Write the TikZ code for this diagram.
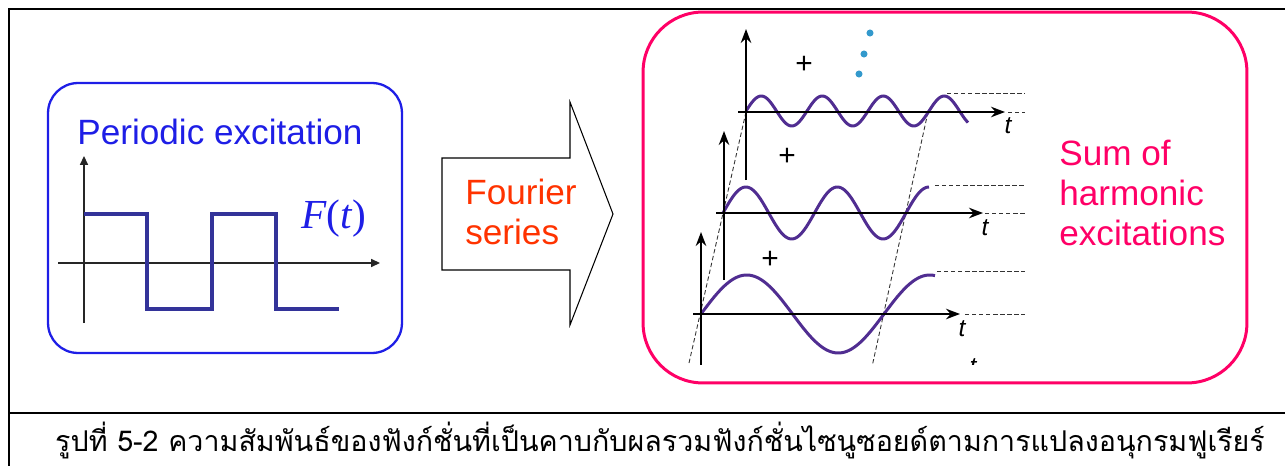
\documentclass[tikz,border=0pt]{standalone}
\usepackage{fontspec}
\setmainfont{Liberation Sans}
\newfontfamily\thaifont[Script=Thai]{Loma}
\newfontfamily\timesfont{Liberation Serif}
\usetikzlibrary{arrows.meta,positioning}

\definecolor{excblue}{RGB}{30,30,230}
\definecolor{squarewave}{RGB}{51,51,153}
\definecolor{fourierred}{RGB}{255,51,0}
\definecolor{sumpink}{RGB}{255,0,102}
\definecolor{harmonicpurple}{RGB}{80,45,145}
\definecolor{dotblue}{RGB}{51,153,204}

\begin{document}
\begin{tikzpicture}[
  x=0.02cm, y=-0.02cm,
  >=Stealth,
  frame/.style={line width=1.7pt, black},
  bigtext/.style={font=\fontsize{20}{22.7}\selectfont, align=left, inner sep=0pt},
  periodicbox/.style={draw=excblue, line width=1.3pt, rounded corners=0.6cm,
    minimum width=7.08cm, minimum height=5.4cm},
  sumbox/.style={draw=sumpink, line width=1.7pt, rounded corners=1.2cm,
    minimum width=12.08cm, minimum height=7.42cm},
  sqaxis/.style={-{Triangle[length=5pt,width=4.5pt]}, line width=0.8pt, black!85},
  sqwave/.style={line width=2pt, squarewave},
  fourierarrow/.style={draw=black, line width=0.6pt},
  axis/.style={->, line width=1.1pt, black},
  harmonic/.style={line width=1.7pt, harmonicpurple, smooth},
  guide/.style={dashed, dash pattern=on 2.5pt off 1.5pt, line width=0.5pt, black!80},
  tlabel/.style={font=\fontsize{14}{14}\selectfont\itshape, inner sep=0pt},
  plus/.style={font=\fontsize{17}{17}\selectfont, inner sep=0pt},
  dot/.style={circle, fill=dotblue, inner sep=0pt, minimum size=4pt},
  caption/.style={font=\thaifont\fontsize{16.3}{20}\selectfont, inner sep=0pt}
]
\useasboundingbox (0,0) rectangle (1285,466);

% Outer table frame.
\draw[frame] (1285,9) -- (9,9) -- (9,466);
\draw[frame] (9,413) -- (1285,413);

% Periodic excitation box with square wave.
\node[periodicbox] (periodic) at (225,218) {};
\node[bigtext, excblue] (periodiclabel) at (220,132) {Periodic excitation};
\draw[sqaxis] (84,323) -- (84,156);
\draw[sqaxis] (58,263) -- (380,263);
\draw[sqwave] (84,214) -| (147,309) -| (212,214) -| (276,309) -- (339,309);
\node[font=\fontsize{23.5}{23.5}\selectfont, excblue, inner sep=0pt] (ftlabel) at (334,219)
  {\timesfont\itshape F\/\upshape(\itshape t\/\upshape)};

% Fourier series block arrow.
\draw[fourierarrow] (442,158) -- (570,158) -- (570,102) -- (613,214)
  -- (570,325) -- (570,270) -- (442,270) -- cycle;
\node[bigtext, fourierred, anchor=west] (fourierlabel) at (465,212) {Fourier\\series};

% Sum of harmonics box.
\node[sumbox] (sum) at (945,197.5) {};
\node[bigtext, sumpink, anchor=west] (sumlabel) at (1059,193)
  {Sum of\\harmonic\\excitations};

\begin{scope}
\clip (660,18) rectangle (1040,364);
% Slanted guides through the origins.
\draw[guide] (746,112) -- (684,385);
\draw[guide] (928,112) -- (868,385);
\draw[guide] (947,93) -- (1025,93);
\draw[guide] (1008,112) -- (1025,112);
\draw[guide] (935,185) -- (1025,185);
\draw[guide] (985,213) -- (1025,213);
\draw[guide] (937,271) -- (1025,271);
\draw[guide] (965,314) -- (1025,314);

% Harmonics 3, 2, 1.
\draw[harmonic, domain=0:222, samples=150] plot ({746+\x}, {111-15*sin(\x/61*360)});
\draw[harmonic, domain=0:206, samples=120] plot ({723+\x}, {213-26*sin(\x/91.5*360)});
\draw[harmonic, domain=0:234, samples=120] plot ({701+\x}, {314-39*sin(\x/183*360)});

\draw[axis] (746,180) -- (746,29);
\draw[axis] (738,112) -- (1005,112);
\node[tlabel] (t1) at (1008,126) {t};
\draw[axis] (724,280) -- (724,131);
\draw[axis] (716,213) -- (983,213);
\node[tlabel] (t2) at (985,228) {t};
\draw[axis] (701,375) -- (701,232);
\draw[axis] (693,314) -- (960,314);
\node[tlabel] (t3) at (962,329) {t};
\node[tlabel] (t4) at (973,367) {t};

\node[plus] (plus1) at (804,65) {+};
\node[plus] (plus2) at (787,157) {+};
\node[plus] (plus3) at (770,260) {+};
\node[dot] (dot1) at (870,33) {};
\node[dot] (dot2) at (864,54) {};
\node[dot] (dot3) at (859,74) {};
\end{scope}

% Caption.
\node[caption] (caption) at (660,441)
  {รูปที่ 5-2 ความสัมพันธ์ของฟังก์ชั่นที่เป็นคาบกับผลรวมฟังก์ชั่นไซนูซอยด์ตามการแปลงอนุกรมฟูเรียร์};
\end{tikzpicture}
\end{document}
